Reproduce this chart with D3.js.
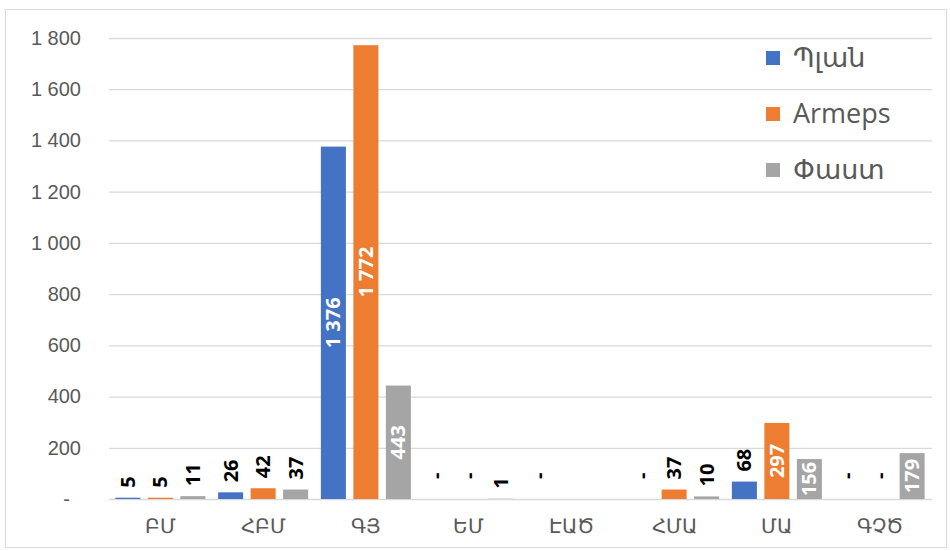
<!DOCTYPE html>
<html>
<head>
<meta charset="utf-8">
<script src="https://cdn.jsdelivr.net/npm/d3@7"></script>
<style>
  body { margin: 0; background: #fff; }
  svg { font-family: "Open Sans", "Noto Sans", "DejaVu Sans", sans-serif; }
</style>
</head>
<body>
<div id="chart"></div>
<script>
// chart data
const categories = ["ԲՄ", "ՀԲՄ", "ԳՅ", "ԵՄ", "ԷԱԾ", "ՀՄԱ", "ՄԱ", "ԳՉԾ"];
const seriesNames = ["Պլան", "Armeps", "Փաստ"];
const planValues = [5, 26, 1376, 0, 0, 0, 68, 0];
const armepsValues = [5, 42, 1772, 0, null, 37, 297, 0];
const factValues = [11, 37, 443, 1, null, 10, 156, 179];
const yTicks = [0, 200, 400, 600, 800, 1000, 1200, 1400, 1600, 1800];
const colors = ["#4472C4", "#ED7D31", "#A5A5A5"];

const width = 950, height = 551;
const plotLeft = 109, plotRight = 931, plotTop = 38, plotBottom = 499;

let svg = d3.select("#chart").append("svg")
    .attr("width", width)
    .attr("height", height);

// outer frame
svg.append("rect")
    .attr("x", 5.5).attr("y", 9.5)
    .attr("width", 941).attr("height", 538)
    .attr("fill", "none")
    .attr("stroke", "#d9d9d9");

const fmt = d3.formatLocale({thousands: " ", grouping: [3], decimal: ",", currency: ["", ""]}).format(",d");
const label = v => v === 0 ? "-" : fmt(v);

let x = d3.scaleBand().domain(categories).range([plotLeft, plotRight])
    .paddingInner(0.124).paddingOuter(0.062);
let xs = d3.scaleBand().domain(seriesNames).range([0, x.bandwidth()])
    .paddingInner(0.23);
let y = d3.scaleLinear().domain([0, 1800]).range([plotBottom, plotTop]);

// gridlines
let grid = svg.append("g")
    .attr("transform", "translate(" + plotLeft + ",0)")
    .call(d3.axisLeft(y).tickValues(yTicks).tickSize(-(plotRight - plotLeft + 1)).tickFormat(""));
grid.select(".domain").remove();
grid.selectAll("line").attr("stroke", "#d9d9d9").attr("stroke-width", 1.3);

// y tick labels
let yaxis = svg.append("g")
    .attr("transform", "translate(" + plotLeft + ",0)")
    .call(d3.axisLeft(y).tickValues(yTicks).tickSize(0).tickPadding(28).tickFormat(label));
yaxis.select(".domain").remove();
yaxis.selectAll("text")
    .attr("fill", "#595959")
    .style("font-size", "20px")
    .attr("dx", d => d === 0 ? -11 : 0);

// x labels
let xaxis = svg.append("g")
    .attr("transform", "translate(0," + plotBottom + ")")
    .call(d3.axisBottom(x).tickSize(0).tickPadding(20));
xaxis.select(".domain").remove();
xaxis.selectAll("text")
    .attr("fill", "#595959")
    .style("font-size", "20px");

// bars
const series = [planValues, armepsValues, factValues].map((vals, i) => ({
    name: seriesNames[i],
    color: colors[i],
    points: vals.map((v, j) => ({cat: categories[j], value: v}))
}));

let groups = svg.selectAll(".series")
    .data(series)
    .enter().append("g")
    .attr("class", "series");

groups.selectAll("rect")
    .data(s => s.points.filter(p => p.value !== null).map(p => ({...p, s: s})))
    .enter().append("rect")
    .attr("x", d => x(d.cat) + xs(d.s.name))
    .attr("y", d => y(d.value))
    .attr("width", xs.bandwidth())
    .attr("height", d => plotBottom - y(d.value))
    .attr("fill", d => d.s.color);

// data labels, rotated - white inside when they fit, black above otherwise
groups.selectAll("text")
    .data(s => s.points.filter(p => p.value !== null).map(p => ({...p, s: s})))
    .enter().append("text")
    .text(d => label(d.value))
    .style("font-size", "20px")
    .style("font-weight", "bold")
    .attr("dy", "0.35em")
    .each(function(d) {
        let t = d3.select(this);
        let len = this.getComputedTextLength();
        let cx = x(d.cat) + xs(d.s.name) + xs.bandwidth() / 2;
        let h = plotBottom - y(d.value);
        if (h > len + 4) {
            t.attr("fill", "#fff")
             .attr("text-anchor", "middle")
             .attr("transform", "translate(" + cx + "," + (y(d.value) + h / 2) + ") rotate(-90)");
        } else {
            let off = d.value === 0 ? 20 : 10;
            t.attr("fill", "#000")
             .attr("text-anchor", "start")
             .attr("transform", "translate(" + cx + "," + (y(d.value) - off) + ") rotate(-90)");
        }
    });

// legend
let legend = svg.selectAll(".legend")
    .data(seriesNames)
    .enter().append("g")
    .attr("class", "legend")
    .attr("transform", (d, i) => "translate(766," + (58 + i * 56) + ")");

legend.append("rect")
    .attr("x", 0).attr("y", -7)
    .attr("width", 14).attr("height", 14)
    .attr("fill", (d, i) => colors[i]);

legend.append("text")
    .text(d => d)
    .attr("x", 27)
    .attr("dy", "0.35em")
    .attr("fill", "#595959")
    .style("font-size", "27px");
</script>
</body>
</html>
